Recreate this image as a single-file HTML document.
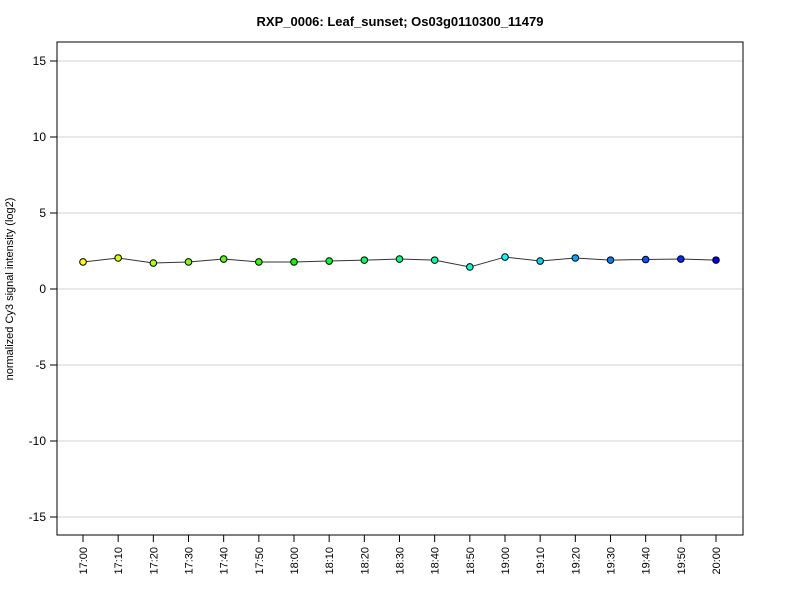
<!DOCTYPE html>
<html><head><meta charset="utf-8"><style>
body{margin:0;background:#fff}
svg{display:block;font-family:"Liberation Sans",Arial,sans-serif}
</style></head><body>
<svg id="chart" width="800" height="600" xmlns="http://www.w3.org/2000/svg">
<text x="400" y="26" text-anchor="middle" font-size="13" font-weight="bold">RXP_0006: Leaf_sunset; Os03g0110300_11479</text>
<text transform="translate(13,289) rotate(-90)" text-anchor="middle" font-size="11">normalized Cy3 signal intensity (log2)</text>
<g id="grid"></g><g id="axes"></g><g id="series"></g>
<rect x="57" y="42" width="686" height="493" fill="none" stroke="#000" stroke-width="1"/>
</svg>
<script>
const categories=["17:00","17:10","17:20","17:30","17:40","17:50","18:00","18:10","18:20","18:30","18:40","18:50","19:00","19:10","19:20","19:30","19:40","19:50","20:00"];
const values=[1.78,2.04,1.71,1.78,1.97,1.78,1.78,1.84,1.9,1.97,1.9,1.45,2.1,1.84,2.04,1.9,1.94,1.97,1.9];
const yTicks=[-15,-10,-5,0,5,10,15];
const NS="http://www.w3.org/2000/svg";
function x(i){return 83+i*(716-83)/(categories.length-1);}
function y(v){return 289-v*15.2;}
function mk(tag,attrs,parent){const e=document.createElementNS(NS,tag);for(const k in attrs)e.setAttribute(k,attrs[k]);parent.appendChild(e);return e;}
const grid=document.getElementById('grid'),axes=document.getElementById('axes'),series=document.getElementById('series');
yTicks.forEach(t=>{
 const g=mk('line',{x1:57,x2:743,y1:y(t),y2:y(t),stroke:'#d3d3d3','stroke-width':1},grid);
 
 
 const tk=mk('line',{x1:50,x2:57,y1:y(t),y2:y(t),stroke:'#000'},axes);
 
 
 const lb=mk('text',{x:46,y:y(t)+4,'text-anchor':'end','font-size':12},axes);
 lb.textContent=t;
 
 
});
categories.forEach((c,i)=>{
 const tk=mk('line',{x1:x(i),x2:x(i),y1:535,y2:542,stroke:'#000'},axes);
 
 
 const lb=mk('text',{transform:`translate(${x(i)+4},547) rotate(-90)`,'text-anchor':'end','font-size':11},axes);
 lb.textContent=c;
 
 
});
const pl=mk('polyline',{points:values.map((v,i)=>x(i)+','+y(v)).join(' '),fill:'none',stroke:'#333','stroke-width':1},series);


values.forEach((v,i)=>{
 const h=60+i*180/(values.length-1);
 const p=mk('circle',{cx:x(i),cy:y(v),r:3.3,fill:`hsl(${h},100%,50%)`,stroke:'#000','stroke-width':1},series);
 
 
});
</script>
</body></html>
